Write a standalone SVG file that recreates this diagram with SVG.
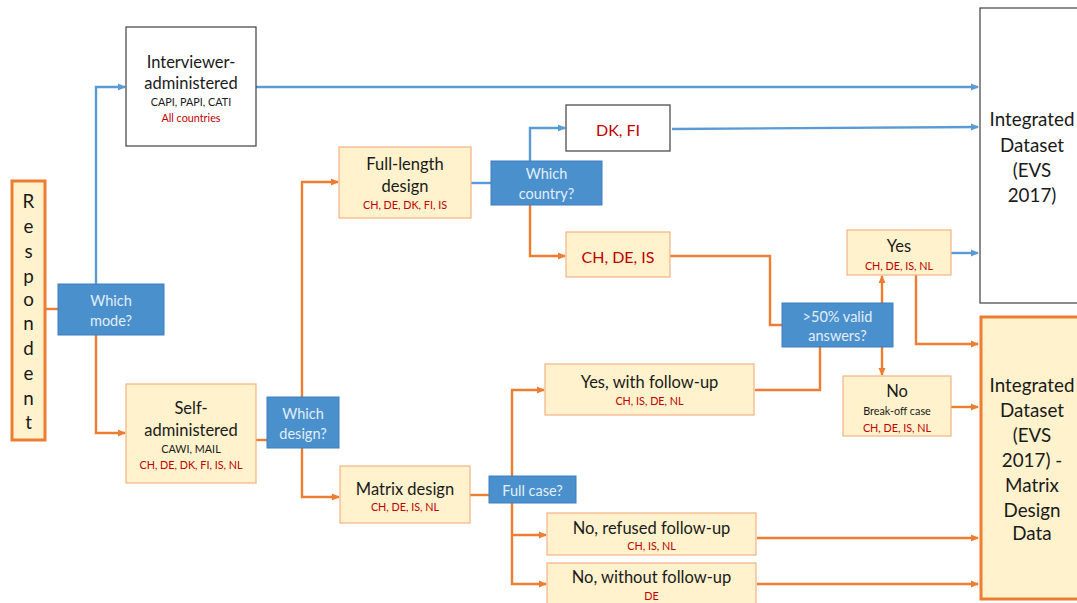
<svg xmlns="http://www.w3.org/2000/svg" width="1077" height="603" viewBox="0 0 1077 603">
<defs>
<marker id="ao" markerWidth="8" markerHeight="8" refX="7" refY="4" orient="auto" markerUnits="userSpaceOnUse"><path d="M0,0.5 L8,4 L0,7.5 Z" fill="#ED7D31"/></marker>
<marker id="ab" markerWidth="8" markerHeight="8" refX="7" refY="4" orient="auto" markerUnits="userSpaceOnUse"><path d="M0,0.5 L8,4 L0,7.5 Z" fill="#5B9BD5"/></marker>
</defs>
<style>
text{font-family:Lato,"Open Sans","Liberation Sans",sans-serif;text-anchor:middle;dominant-baseline:central}
.y{fill:#FFF2CC;stroke:#F4B183;stroke-width:1.2}
.yt{fill:#FFF2CC;stroke:#ED7D31;stroke-width:3}
.w{fill:#FFFFFF;stroke:#404040;stroke-width:1.2}
.b{fill:#4A90CD;stroke:#3F7FBF;stroke-width:1}
.bt{fill:#E3EEF9;font-size:14.5px}
.t{fill:#1a1a1a;font-size:16.5px}
.tl{fill:#1a1a1a;font-size:18.8px}
.s{fill:#1a1a1a;font-size:10.8px}
.r{fill:#C00000;font-size:10.8px}
.rl{fill:#C00000;font-size:16px}
.o{fill:none;stroke:#ED7D31;stroke-width:2.4}
.bl{fill:none;stroke:#5B9BD5;stroke-width:2.4}
</style>
<rect width="1077" height="603" fill="#FFFFFF"/>
<g id="connectors">
<path class="o" d="M45,309 H58"/>
<path class="bl" d="M96,284 V87 H125" marker-end="url(#ab)"/>
<path class="o" d="M96,335 V433 H125" marker-end="url(#ao)"/>
<path class="bl" d="M256,87 H978" marker-end="url(#ab)"/>
<path class="o" d="M256,440 H267"/>
<path class="o" d="M302,397 V182 H338" marker-end="url(#ao)"/>
<path class="o" d="M302,448 V497 H339" marker-end="url(#ao)"/>
<path class="bl" d="M471,183 H491"/>
<path class="bl" d="M530,161 V128 H565" marker-end="url(#ab)"/>
<path class="bl" d="M672,129 L978,127" marker-end="url(#ab)"/>
<path class="o" d="M530,205 V256 H565" marker-end="url(#ao)"/>
<path class="o" d="M670,256 H770 V325 H782"/>
<path class="o" d="M882,303 V276" marker-end="url(#ao)"/>
<path class="bl" d="M951,253 H978" marker-end="url(#ab)"/>
<path class="o" d="M916,275 V344 H978" marker-end="url(#ao)"/>
<path class="o" d="M882,347 V375" marker-end="url(#ao)"/>
<path class="o" d="M951,407 H978" marker-end="url(#ao)"/>
<path class="o" d="M755,390 H820 V347"/>
<path class="o" d="M470,495 H489"/>
<path class="o" d="M512,476 V390 H544" marker-end="url(#ao)"/>
<path class="o" d="M512,503 V584 H546" marker-end="url(#ao)"/>
<path class="o" d="M512,535 H546" marker-end="url(#ao)"/>
<path class="o" d="M757,538 H978" marker-end="url(#ao)"/>
<path class="o" d="M757,584 H978" marker-end="url(#ao)"/>
</g>
<g id="respondent">
<rect class="yt" x="12" y="181" width="33" height="259"/>
<text class="tl" x="28.5" y="200">R</text>
<text class="tl" x="28.5" y="225">e</text>
<text class="tl" x="28.5" y="250">s</text>
<text class="tl" x="28.5" y="275">p</text>
<text class="tl" x="28.5" y="298">o</text>
<text class="tl" x="28.5" y="322">n</text>
<text class="tl" x="28.5" y="347">d</text>
<text class="tl" x="28.5" y="372">e</text>
<text class="tl" x="28.5" y="397">n</text>
<text class="tl" x="28.5" y="421">t</text>
</g>
<g id="which-mode">
<rect class="b" x="58" y="284" width="106" height="51"/>
<text class="bt" x="111" y="300">Which</text>
<text class="bt" x="111" y="320">mode?</text>
</g>
<g id="interviewer">
<rect class="w" x="126" y="27" width="130" height="119"/>
<text class="t" x="191" y="62">Interviewer-</text>
<text class="t" x="191" y="83">administered</text>
<text class="s" x="191" y="101">CAPI, PAPI, CATI</text>
<text class="r" x="191" y="117">All countries</text>
</g>
<g id="self">
<rect class="y" x="126" y="384" width="130" height="99"/>
<text class="t" x="191" y="408">Self-</text>
<text class="t" x="191" y="430">administered</text>
<text class="s" x="191" y="448">CAWI, MAIL</text>
<text class="r" x="191" y="464">CH, DE, DK, FI, IS, NL</text>
</g>
<g id="which-design">
<rect class="b" x="267" y="397" width="72" height="51"/>
<text class="bt" x="303" y="413">Which</text>
<text class="bt" x="303" y="433">design?</text>
</g>
<g id="full-length">
<rect class="y" x="339" y="147" width="132" height="71"/>
<text class="t" x="405" y="164">Full-length</text>
<text class="t" x="405" y="186">design</text>
<text class="r" x="405" y="204">CH, DE, DK, FI, IS</text>
</g>
<g id="which-country">
<rect class="b" x="491" y="161" width="111" height="44"/>
<text class="bt" x="546.5" y="173">Which</text>
<text class="bt" x="546.5" y="193">country?</text>
</g>
<g id="dk-fi">
<rect class="w" x="566" y="105" width="104" height="46"/>
<text class="rl" x="618" y="129">DK, FI</text>
</g>
<g id="ch-de-is">
<rect class="y" x="566" y="232" width="104" height="45"/>
<text class="rl" x="618" y="256">CH, DE, IS</text>
</g>
<g id="valid-answers">
<rect class="b" x="782" y="303" width="111" height="44"/>
<text class="bt" x="837.5" y="316">&gt;50% valid</text>
<text class="bt" x="837.5" y="335">answers?</text>
</g>
<g id="yes">
<rect class="y" x="847" y="230" width="104" height="45"/>
<text class="t" x="899" y="246">Yes</text>
<text class="r" x="899" y="265">CH, DE, IS, NL</text>
</g>
<g id="no">
<rect class="y" x="843" y="376" width="108" height="60"/>
<text class="t" x="897" y="391">No</text>
<text class="s" x="897" y="410">Break-off case</text>
<text class="r" x="897" y="427">CH, DE, IS, NL</text>
</g>
<g id="matrix-design">
<rect class="y" x="340" y="466" width="130" height="57"/>
<text class="t" x="405" y="489">Matrix design</text>
<text class="r" x="405" y="506">CH, DE, IS, NL</text>
</g>
<g id="full-case">
<rect class="b" x="489" y="476" width="87" height="27"/>
<text class="bt" x="532.5" y="490">Full case?</text>
</g>
<g id="yes-follow-up">
<rect class="y" x="545" y="364" width="209" height="51"/>
<text class="t" x="649.5" y="382">Yes, with follow-up</text>
<text class="r" x="649.5" y="400">CH, IS, DE, NL</text>
</g>
<g id="no-refused">
<rect class="y" x="547" y="513" width="209" height="42"/>
<text class="t" x="651.5" y="528">No, refused follow-up</text>
<text class="r" x="651.5" y="545">CH, IS, NL</text>
</g>
<g id="no-without">
<rect class="y" x="547" y="563" width="209" height="45"/>
<text class="t" x="651.5" y="577">No, without follow-up</text>
<text class="r" x="651.5" y="595">DE</text>
</g>
<g id="integrated">
<rect class="w" x="980" y="8" width="110" height="295"/>
<text class="tl" x="1032" y="118">Integrated</text>
<text class="tl" x="1032" y="144">Dataset</text>
<text class="tl" x="1032" y="169">(EVS</text>
<text class="tl" x="1032" y="194">2017)</text>
</g>
<g id="integrated-matrix">
<rect class="yt" x="981" y="317" width="110" height="282"/>
<text class="tl" x="1032" y="384">Integrated</text>
<text class="tl" x="1032" y="409">Dataset</text>
<text class="tl" x="1032" y="434">(EVS</text>
<text class="tl" x="1032" y="459">2017) -</text>
<text class="tl" x="1032" y="484">Matrix</text>
<text class="tl" x="1032" y="509">Design</text>
<text class="tl" x="1032" y="532">Data</text>
</g>
</svg>
